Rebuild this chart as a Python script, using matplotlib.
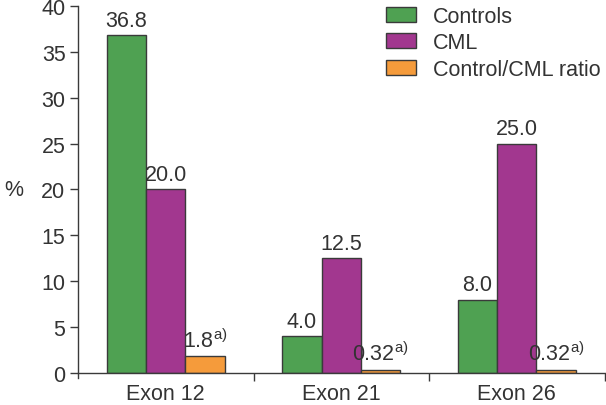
import matplotlib
matplotlib.use('Agg')
from matplotlib import pyplot as plt
import numpy as np

plt.rcParams['font.family'] = ['Liberation Sans', 'DejaVu Sans']
plt.rcParams['mathtext.fontset'] = 'custom'
plt.rcParams['mathtext.rm'] = 'Liberation Sans'

exons = ['Exon 12', 'Exon 21', 'Exon 26']
controls = [36.8, 4.0, 8.0]
cml = [20.0, 12.5, 25.0]
ratio = [1.8, 0.32, 0.32]
ratio_labels = ['1.8', '0.32', '0.32']

green = '#4fa152'
purple = '#a2378f'
orange = '#f59b3b'
edge = '#3a3a3a'
txt = '#333333'

fig = plt.figure(figsize=(6.06, 4.06), dpi=100)
ax = fig.add_axes([0.1287, 0.0788, 0.869, 0.904])

x = np.arange(len(exons)) + 0.5
w = 0.224
ax.bar(x - w, controls, w, color=green, edgecolor=edge, linewidth=1, label='Controls')
ax.bar(x, cml, w, color=purple, edgecolor=edge, linewidth=1, label='CML')
ax.bar(x + w, ratio, w, color=orange, edgecolor=edge, linewidth=1, label='Control/CML ratio')

fs = 15.5
for i in range(len(exons)):
    ax.text(x[i] - w, controls[i] + 0.5, f'{controls[i]:.1f}', ha='center', va='bottom', fontsize=fs, color=txt)
    ax.text(x[i], cml[i] + 0.5, f'{cml[i]:.1f}', ha='center', va='bottom', fontsize=fs, color=txt)
    ax.text(x[i] + w, ratio[i] + 0.5, ratio_labels[i] + r'$^{\mathregular{a)}}$', ha='center', va='bottom',
            fontsize=fs, color=txt)

ax.set_xlim(0, 3)
ax.set_ylim(0, 40)
ax.set_yticks(np.arange(0, 41, 5))
ax.set_xticks([1, 2, 3])
ax.set_xticklabels([])
ax.set_xticks(x, minor=True)
ax.set_xticklabels(exons, minor=True)
ax.tick_params(axis='x', which='major', length=6, width=1, color=edge)
ax.tick_params(axis='x', which='minor', length=0, pad=7.5, labelsize=fs, labelcolor=txt)
ax.tick_params(axis='y', length=6, width=1, color=edge, labelsize=fs, labelcolor=txt, pad=3)
for s in ['top', 'right']:
    ax.spines[s].set_visible(False)
for s in ['left', 'bottom']:
    ax.spines[s].set_color(edge)
    ax.spines[s].set_linewidth(1)
ax.spines['left'].set_bounds(-0.5, 40)

ax.set_ylabel('%', rotation=0, fontsize=fs, color=txt, labelpad=20, va='center')

ax.legend(loc='upper left', bbox_to_anchor=(0.584, 1.0), frameon=False, fontsize=fs,
          borderpad=0, borderaxespad=0,
          handlelength=1.4, handleheight=0.7, handletextpad=0.8, labelspacing=0.25,
          labelcolor=txt)

fig.savefig('out.png', dpi=100)
